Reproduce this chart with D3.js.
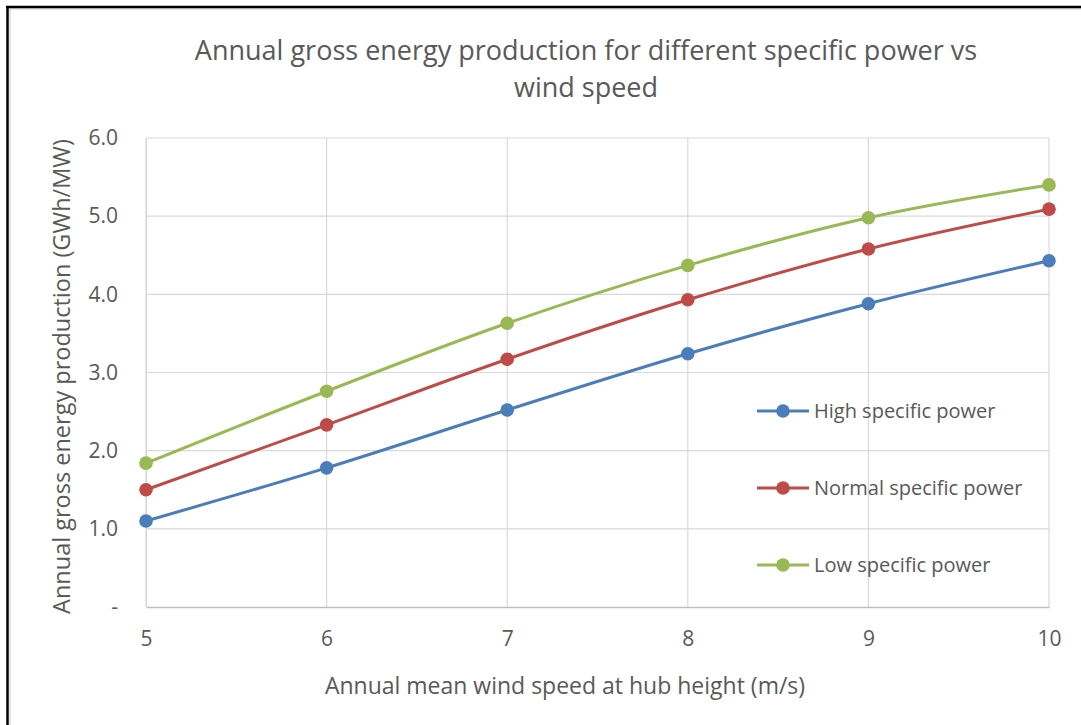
<!DOCTYPE html>
<html>
<head>
<meta charset="utf-8">
<script src="https://cdn.jsdelivr.net/npm/d3@7"></script>
<style>
  html, body { margin: 0; padding: 0; background: #fff; }
  svg { display: block; font-family: "Open Sans", "Liberation Sans", sans-serif; }
</style>
</head>
<body>
<svg width="1081" height="725"></svg>
<script>
// wind speed (m/s) on the x axis
const windSpeeds = [5, 6, 7, 8, 9, 10];
const highPower = [1.10, 1.78, 2.52, 3.24, 3.88, 4.43];
const normalPower = [1.50, 2.33, 3.17, 3.93, 4.58, 5.09];
const lowPower = [1.84, 2.76, 3.63, 4.37, 4.98, 5.40];
const yTicks = [0, 1, 2, 3, 4, 5, 6];
const seriesNames = ["High specific power", "Normal specific power", "Low specific power"];

const colors = ["#4a7ebb", "#be4b48", "#98b954"];
const series = [highPower, normalPower, lowPower];

const layout = { left: 146, right: 1049, top: 138, bottom: 607 };
const textColor = "#595959";
const fontFamily = '"Open Sans", "Liberation Sans", sans-serif';

const svg = d3.select("svg");

// frame of the copied chart (only top and left edges are visible)
svg.append("line").attr("x1", 9).attr("x2", 1081).attr("y1", 9).attr("y2", 9)
  .attr("stroke", "#e3e3e3").attr("stroke-width", 2);
svg.append("line").attr("x1", 10).attr("x2", 10).attr("y1", 9).attr("y2", 725)
  .attr("stroke", "#e3e3e3").attr("stroke-width", 2);
svg.append("line").attr("x1", 6).attr("x2", 1081).attr("y1", 7).attr("y2", 7)
  .attr("stroke", "#000").attr("stroke-width", 2.5);
svg.append("line").attr("x1", 7.5).attr("x2", 7.5).attr("y1", 6).attr("y2", 725)
  .attr("stroke", "#000").attr("stroke-width", 2.5);

const x = d3.scaleLinear().domain([5, 10]).range([layout.left, layout.right]);
const y = d3.scaleLinear().domain([0, 6]).range([layout.bottom, layout.top]);

// gridlines
const grid = svg.append("g");
grid.selectAll("line.h").data(yTicks.filter(d => d > 0)).join("line")
  .attr("x1", layout.left).attr("x2", layout.right)
  .attr("y1", d => y(d)).attr("y2", d => y(d))
  .attr("stroke", "#d9d9d9").attr("stroke-width", 1.2);
grid.selectAll("line.v").data(windSpeeds).join("line")
  .attr("x1", d => x(d)).attr("x2", d => x(d))
  .attr("y1", layout.top).attr("y2", layout.bottom)
  .attr("stroke", "#d9d9d9").attr("stroke-width", 1.2);

// x axis
const xAxis = svg.append("g")
  .attr("transform", `translate(0,${layout.bottom})`)
  .call(d3.axisBottom(x).tickValues(windSpeeds).tickSize(0).tickPadding(24).tickFormat(d3.format("d")))
  .attr("font-family", fontFamily).attr("font-size", 21);
xAxis.select(".domain").attr("stroke", "#bfbfbf").attr("stroke-width", 1.5);
xAxis.selectAll("text").attr("fill", textColor);

// y axis
const yAxis = svg.append("g")
  .attr("transform", `translate(${layout.left},0)`)
  .call(d3.axisLeft(y).tickValues(yTicks).tickSize(0).tickPadding(28)
    .tickFormat(d => d === 0 ? "-" : d3.format(".1f")(d)))
  .attr("font-family", fontFamily).attr("font-size", 21);
yAxis.select(".domain").attr("stroke", "#d9d9d9").attr("stroke-width", 1.2);
yAxis.selectAll("text").attr("fill", textColor);

// lines and markers
const line = d3.line()
  .x((d, i) => x(windSpeeds[i]))
  .y(d => y(d))
  .curve(d3.curveCatmullRom.alpha(0));

series.forEach((values, si) => {
  svg.append("path")
    .datum(values)
    .attr("fill", "none")
    .attr("stroke", colors[si])
    .attr("stroke-width", 3)
    .attr("stroke-linecap", "round")
    .attr("d", line);
  svg.append("g").selectAll("circle").data(values).join("circle")
    .attr("cx", (d, i) => x(windSpeeds[i]))
    .attr("cy", d => y(d))
    .attr("r", 6.8)
    .attr("fill", colors[si]);
});

// legend
const legend = svg.append("g").attr("transform", "translate(757,411)");
seriesNames.forEach((name, i) => {
  const g = legend.append("g").attr("transform", `translate(0,${i * 77})`);
  g.append("line").attr("x1", 0).attr("x2", 52).attr("y1", 0).attr("y2", 0)
    .attr("stroke", colors[i]).attr("stroke-width", 3);
  g.append("circle").attr("cx", 26).attr("cy", 0).attr("r", 6.8).attr("fill", colors[i]);
  g.append("text").attr("x", 57).attr("y", 0).attr("dy", "0.35em")
    .attr("fill", textColor).attr("font-size", 20).text(name);
});

// title
svg.append("text").attr("x", 586).attr("y", 60).attr("text-anchor", "middle")
  .attr("fill", textColor).attr("font-size", 27)
  .text("Annual gross energy production for different specific power vs");
svg.append("text").attr("x", 586).attr("y", 97).attr("text-anchor", "middle")
  .attr("fill", textColor).attr("font-size", 27)
  .text("wind speed");

// axis titles
svg.append("text").attr("x", 565).attr("y", 694).attr("text-anchor", "middle")
  .attr("fill", textColor).attr("font-size", 23)
  .text("Annual mean wind speed at hub height (m/s)");
svg.append("text")
  .attr("transform", `translate(70,${(138 + 615) / 2}) rotate(-90)`)
  .attr("text-anchor", "middle")
  .attr("fill", textColor).attr("font-size", 23.5)
  .text("Annual gross energy production (GWh/MW)");
</script>
</body>
</html>
